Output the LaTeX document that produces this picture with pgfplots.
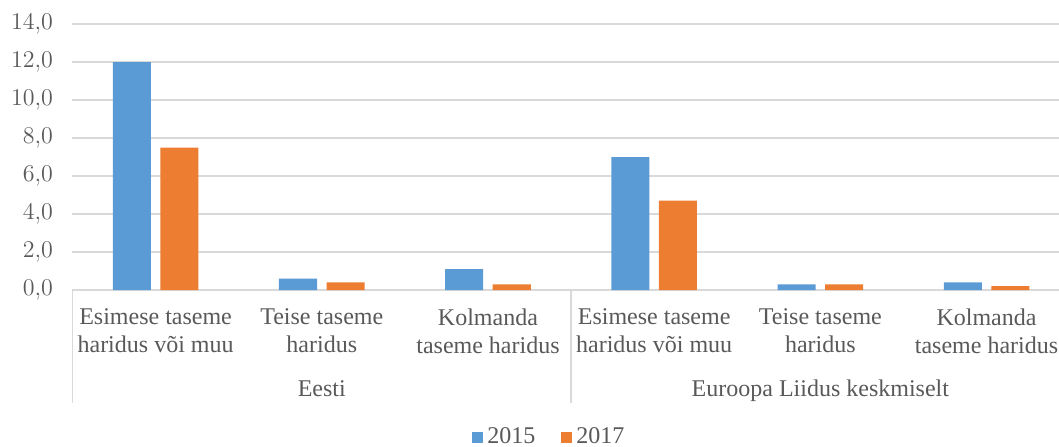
\documentclass[border=0pt]{standalone}
\usepackage{fontspec}
\setmainfont{Liberation Serif}
\usepackage{pgfplots}
\pgfplotsset{compat=1.18}
\definecolor{c15}{HTML}{5B9BD5}
\definecolor{c17}{HTML}{ED7D31}
\definecolor{txt}{HTML}{595959}
\definecolor{grd}{HTML}{D9D9D9}
\begin{document}
\begin{tikzpicture}
\useasboundingbox (-36.25pt,-78pt) rectangle (493.25pt,145pt);
\begin{axis}[
  at={(0,0)}, anchor=south west,
  scale only axis, width=493.25pt, height=133pt,
  xmin=-0.5, xmax=5.436, ymin=0, ymax=14,
  ybar, bar width=0.229,
  axis line style={draw=none},
  ymajorgrids, grid style={grd, line width=0.75pt},
  major tick length=0pt,
  ytick={0,2,...,14},
  yticklabel={\pgfmathprintnumber[fixed,fixed zerofill,precision=1,use comma]{\tick}},
  yticklabel style={xshift=-6.25pt},
  xtick={0,...,5},
  xticklabels={{Esimese taseme\\haridus või muu},{Teise taseme\\haridus},{Kolmanda\\taseme haridus},{Esimese taseme\\haridus või muu},{Teise taseme\\haridus},{Kolmanda\\taseme haridus}},
  xticklabel style={align=center, yshift=-5.85pt},
  tick label style={font=\fontsize{12}{13.8}\selectfont, text=txt},
  clip=false,
  legend columns=2,
  legend style={at={(0.4845,-0.5526)}, anchor=center, draw=none, fill=none,
    font=\fontsize{12}{13.8}\selectfont, text=txt,
    /tikz/every even column/.append style={column sep=11pt}},
]
\addplot[fill=c15, draw=none, bar shift=-0.143,
  legend image code/.code={\fill[c15] (0pt,-2.75pt) rectangle (5.5pt,2.75pt);}]
  coordinates {(0,12.0) (1,0.6) (2,1.1) (3,7.0) (4,0.3) (5,0.4)};
\addlegendentry{2015}
\addplot[fill=c17, draw=none, bar shift=0.143,
  legend image code/.code={\fill[c17] (0pt,-2.75pt) rectangle (5.5pt,2.75pt);}]
  coordinates {(0,7.5) (1,0.4) (2,0.3) (3,4.7) (4,0.3) (5,0.2)};
\addlegendentry{2017}
\draw[grd, line width=0.75pt] (axis cs:-0.5,0) -- ++(0pt,-56.5pt);
\draw[grd, line width=0.75pt] (axis cs:2.5,0) -- ++(0pt,-56.5pt);
\node[anchor=base, yshift=-53pt, font=\fontsize{12}{13.8}\selectfont, text=txt] at (axis cs:1,0) {Eesti};
\node[anchor=base, yshift=-53pt, font=\fontsize{12}{13.8}\selectfont, text=txt] at (axis cs:4,0) {Euroopa Liidus keskmiselt};
\end{axis}
\end{tikzpicture}
\end{document}
